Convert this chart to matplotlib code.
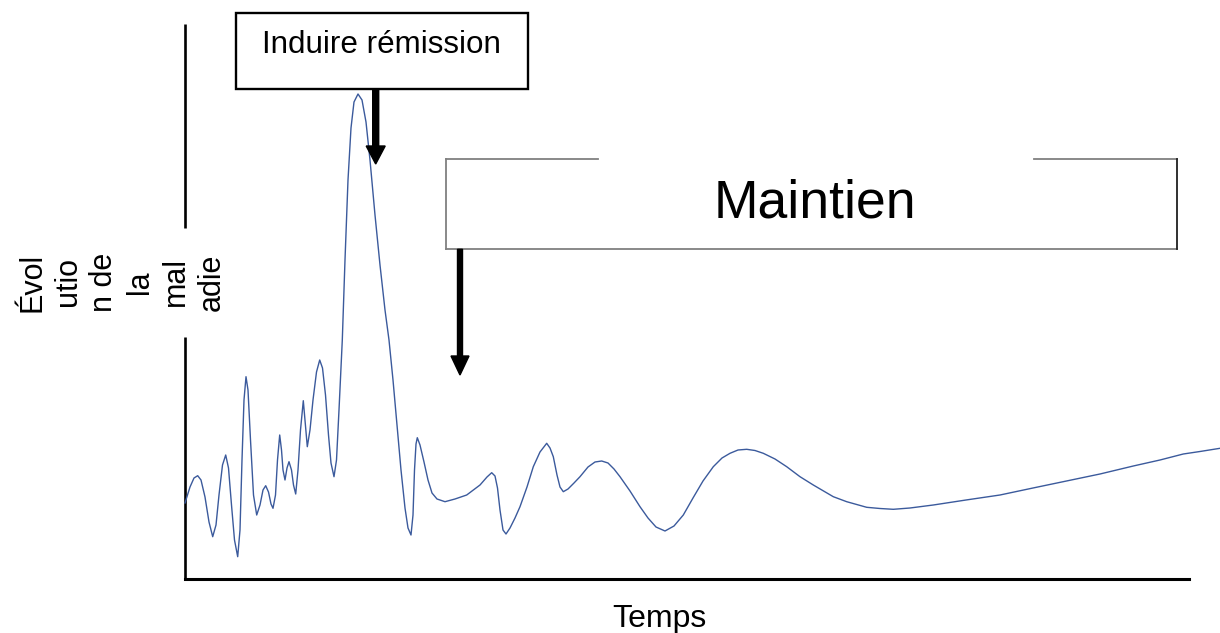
import matplotlib.pyplot as plt
from matplotlib.patches import FancyArrow, Rectangle

# courbe (temps, evolution) - unites arbitraires
temps = [0, 5, 9, 12.7, 16, 20, 24, 27.7, 31, 34, 37.5, 40.7, 43.5, 46.5, 49.5, 52.7,
         55, 57, 59, 61, 63, 65.5, 68.5, 71.7, 75, 78, 80.7, 83.5, 86, 88, 90.5, 92.5,
         94.7, 96.5, 98, 100, 102, 104, 106.5, 108.5, 110.7, 113, 115.5, 118.3, 120, 122.3,
         125, 128, 131.5, 134.7, 137.5, 140.5, 143.5, 146, 149, 151.5, 154, 157.3, 160, 163,
         166, 169, 173, 177, 181, 185, 190, 195, 200, 204, 208, 212, 216, 220, 223, 226,
         228, 229.5, 231, 232.3, 235, 239, 243, 247, 252, 260, 270, 281.7, 295, 302,
         306.7, 310, 312.5, 315, 318, 321, 325, 330, 335, 342, 348.3, 355, 361.7, 365,
         368.3, 372, 375, 378.3, 383, 389, 395, 403, 410, 416.7, 423, 429, 435, 445,
         455, 463, 471, 480, 489, 498.3, 508, 518, 528.3, 537, 545, 553, 561.7, 570,
         578.3, 590, 601.7, 615, 628.3, 648.3, 661.7, 681.7, 695, 708.3, 725, 748.3, 781, 815,
         848, 881.7, 915, 948.3, 975, 998.3, 1015, 1035]
evolution = [76, 92, 101, 103.3, 99, 82, 57, 42.3, 54, 84, 114, 124, 111, 74, 39, 22.3,
             49, 119, 179, 202.3, 189, 139, 84, 64, 74, 89, 93.3, 87, 75, 70.7, 84, 119,
             144, 129, 109, 99, 111, 117.3, 109, 94, 85, 109, 149, 178.3, 159, 132.3,
             149, 179, 207, 219, 211, 184, 144, 116, 102.3, 119, 169, 239, 319, 399,
             451, 477, 485, 479, 457, 419, 364, 314, 269, 239, 199, 154, 109, 71, 51, 44,
             64, 109, 135, 141.3, 134, 117, 99, 86, 80, 77.3, 80, 84, 94, 102,
             106.3, 103, 91, 69, 49, 45, 51, 61, 72.3, 92, 112.3, 127, 135.7, 131,
             122.3, 104, 92, 87.3, 90, 96, 102.3, 112, 117, 118, 116, 110, 102.3, 88,
             72.3, 61, 52, 48, 53, 64, 81, 98, 112.3, 121, 125.7, 129, 129.7, 128.5,
             125.7, 120, 112.3, 102.3, 94, 82.3, 77.3, 71.7, 70.5, 69.7, 71, 74, 79, 84,
             91, 98, 105, 113, 119, 125, 127.5, 130.7]

police = "Liberation Sans"

fig = plt.figure(figsize=(12.2, 6.33), dpi=100)
ax = fig.add_axes([185 / 1220, 54 / 633, 1004 / 1220, 555 / 633])
ax.set_xlim(0, 1004)
ax.set_ylim(0, 555)
ax.set_xticks([])
ax.set_yticks([])
ax.spines["top"].set_visible(False)
ax.spines["right"].set_visible(False)
ax.spines["left"].set_visible(False)
ax.spines["bottom"].set_linewidth(2.2)

# axe vertical coupe par le titre
ax.plot([0, 0], [0, 242], color="black", lw=1.9, clip_on=False, solid_capstyle="butt")
ax.plot([0, 0], [351, 555], color="black", lw=1.9, clip_on=False, solid_capstyle="butt")

ax.plot(temps, evolution, color="#3b5a9c", lw=1.0, clip_on=False)

ax.text(474, -48, "Temps", ha="center", va="baseline", fontsize=23, family=police, clip_on=False)
ax.text(-63, 297, "Évol\nutio\nn de\nla\nmal\nadie", rotation=90, ha="center", va="center",
        multialignment="center", fontsize=22, linespacing=1.25, family=police, clip_on=False)

# boite "Induire rémission"
ax.add_patch(Rectangle((51, 489.7), 291.7, 76.6, facecolor="white", edgecolor="black",
                       lw=1.7, clip_on=False, zorder=3))
ax.text(196.7, 525.7, "Induire rémission", ha="center", va="baseline", fontsize=22.6,
        family=police, zorder=4, clip_on=False)
ax.add_patch(FancyArrow(190.7, 489.7, 0, -74.7, width=6, head_width=19, head_length=18,
                        length_includes_head=True, color="black", clip_on=False, zorder=4))

# boite "Maintien"
ax.add_patch(Rectangle((261, 329.7), 730.5, 90.3, facecolor="white", edgecolor="none",
                       clip_on=False, zorder=3))
gris = "#808080"
ax.plot([261, 412.5], [420, 420], color=gris, lw=1.3, clip_on=False, zorder=4)
ax.plot([849, 991.5], [420, 420], color=gris, lw=1.3, clip_on=False, zorder=4)
ax.plot([261, 991.5], [329.7, 329.7], color=gris, lw=1.3, clip_on=False, zorder=4)
ax.plot([261, 261], [329.7, 420], color=gris, lw=1.3, clip_on=False, zorder=4)
ax.plot([991.5, 991.5], [329.7, 420], color="#202020", lw=1.3, clip_on=False, zorder=4)
ax.text(630, 362, "Maintien", ha="center", va="baseline", fontsize=38.5, family=police,
        zorder=5, clip_on=False)
ax.add_patch(FancyArrow(275, 329.7, 0, -125.7, width=5, head_width=18, head_length=19,
                        length_includes_head=True, color="black", clip_on=False, zorder=4))

fig.savefig("out.png", dpi=100)
